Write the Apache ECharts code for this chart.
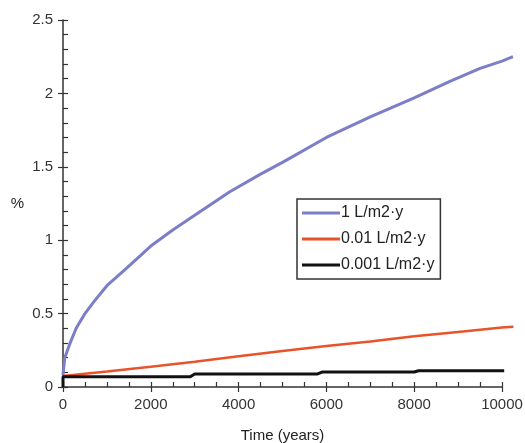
<!DOCTYPE html>
<head>
    <meta charset="utf-8"/>
    <style>
        html,body { height:100%; width:100%; margin:0; padding:0; background:#fff;}
    </style>
</head>
<body>
<div id="chart" style="width:525px;height:443px"></div>

<script src="https://cdn.jsdelivr.net/npm/echarts@6/dist/echarts.min.js"></script>
<script type="text/javascript">

 // data: [years, %]
 var seriesNames = ['1 L/m2·y', '0.01 L/m2·y', '0.001 L/m2·y'];
 var blueData = [[0,0.08],[40,0.2],[150,0.29],[300,0.4],[500,0.5],[700,0.58],[1000,0.69],
     [1450,0.81],[2000,0.96],[2500,1.07],[3000,1.17],[3800,1.33],[4500,1.45],[5000,1.53],
     [6000,1.70],[7000,1.84],[8000,1.97],[8800,2.08],[9500,2.17],[10000,2.22],[10250,2.25]];
 var redData = [[0,0.075],[1000,0.105],[2000,0.138],[3000,0.172],[4000,0.21],[5000,0.245],
     [6000,0.28],[7000,0.31],[8000,0.345],[9000,0.375],[10000,0.405],[10260,0.41]];
 var blackData = [[0,0],[0,0.07],[2900,0.07],[3000,0.089],[5800,0.089],[5900,0.102],
     [8000,0.102],[8100,0.111],[10050,0.111]];
 var colors = ['#7c7ec8','#e8532b','#111111'];

 var font = '"Liberation Sans", Arial, sans-serif';
 var axisCol = '#333';

 var chart = echarts.init(document.getElementById('chart'));

 // plot area: 0 -> x 63, 10000 -> x 502; data run a little past 10000,
 // so the lines sit on a hidden, slightly wider grid (0..10300)
 var plotLeft = 63, plotW = 439;
 var dataMax = 10300;

 function mkSeries(i, data, w){
     return {
         name: seriesNames[i],
         type: 'line',
         data: data,
         xAxisIndex: 2,
         yAxisIndex: 2,
         showSymbol: false,
         symbol: 'none',
         animation: false,
         lineStyle: { color: colors[i], width: w },
         itemStyle: { color: colors[i] }
     };
 }

 var plainNum = function (v) { return String(v); };

 var option = {
    animation: false,
    textStyle: { fontFamily: font },
    grid: [
        { left: plotLeft, right: 525 - plotLeft - plotW, top: 20, bottom: 56,
          containLabel: false, outerBoundsMode: 'none' },
        { left: plotLeft, right: 525 - plotLeft - plotW * dataMax / 10000, top: 20, bottom: 56,
          containLabel: false, outerBoundsMode: 'none' }
    ],
    legend: {
        orient: 'vertical',
        left: 297,
        top: 199,
        data: seriesNames,
        icon: 'rect',
        itemWidth: 38,
        itemHeight: 3,
        itemGap: 10,
        padding: [6, 6, 6, 5],
        borderColor: '#333',
        borderWidth: 1.5,
        selectedMode: false,
        textStyle: { fontSize: 16, color: '#222', fontFamily: font, padding: [0,0,0,-4] }
    },
    xAxis: [{
        type: 'value', min: 0, max: 10000, interval: 2000,
        name: 'Time (years)', nameLocation: 'middle', nameGap: 41,
        nameTextStyle: { fontSize: 15, color: '#222', fontFamily: font },
        splitLine: { show: false },
        axisLine: { onZero: false, lineStyle: { color: axisCol, width: 1.5 } },
        axisTick: { inside: true, length: 5, lineStyle: { color: axisCol, width: 1.2 } },
        minorTick: { show: true, splitNumber: 4, length: 5, lineStyle: { color: axisCol, width: 1.2 } },
        axisLabel: { fontSize: 15, color: '#333', margin: 10, fontFamily: font, formatter: plainNum }
    }, {
        type: 'value', min: 0, max: 10000, interval: 2000, position: 'bottom',
        splitLine: { show: false },
        axisLine: { show: false, onZero: false },
        axisTick: { inside: false, length: 5, lineStyle: { color: axisCol, width: 1.2 } },
        axisLabel: { show: false }
    }, {
        type: 'value', gridIndex: 1, min: 0, max: dataMax, show: false
    }],
    yAxis: [{
        type: 'value', min: 0, max: 2.5, interval: 0.5,
        name: '%', nameLocation: 'middle', nameGap: 39, nameRotate: 0,
        nameTextStyle: { fontSize: 15, color: '#222', fontFamily: font },
        splitLine: { show: false },
        axisLine: { show: true, onZero: false, lineStyle: { color: axisCol, width: 1.5 } },
        axisTick: { show: true, inside: true, length: 5, lineStyle: { color: axisCol, width: 1.2 } },
        minorTick: { show: true, splitNumber: 5, length: 5, lineStyle: { color: axisCol, width: 1.2 } },
        axisLabel: { fontSize: 15, color: '#333', margin: 10, fontFamily: font }
    }, {
        type: 'value', min: 0, max: 2.5, interval: 0.5, position: 'left',
        splitLine: { show: false },
        axisLine: { show: false, onZero: false },
        axisTick: { show: true, inside: false, length: 5, lineStyle: { color: axisCol, width: 1.2 } },
        axisLabel: { show: false }
    }, {
        type: 'value', gridIndex: 1, min: 0, max: 2.5, show: false
    }],
    series: [
        mkSeries(0, blueData, 3),
        mkSeries(1, redData, 2.5),
        mkSeries(2, blackData, 3)
    ]
 };

 chart.setOption(option);
</script>
</body>
